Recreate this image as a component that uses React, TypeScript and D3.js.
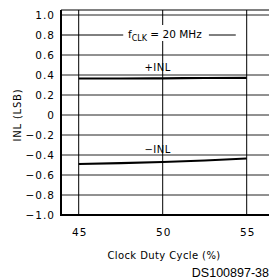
import * as d3 from "d3";
import React from "react";

// duty cycle (%) vs INL (LSB)
const dutyCycle = [45, 47.5, 50, 52.5, 55];
const inlPlus = [0.365, 0.365, 0.367, 0.37, 0.372];
const inlMinus = [-0.49, -0.482, -0.47, -0.455, -0.435];

const xTicks = [45, 50, 55];
const yTicks = [-1.0, -0.8, -0.6, -0.4, -0.2, 0, 0.2, 0.4, 0.6, 0.8, 1.0];

const W = 269;
const H = 279;
const font = "DejaVu Sans, sans-serif";

function App() {
  const x = d3.scaleLinear().domain([45, 55]).range([78.7, 246.7]);
  const y = d3.scaleLinear().domain([-1, 1]).range([215, 15]);

  const left = 61;
  const top = 10;
  const bottom = y(-1);

  const line = d3
    .line<number>()
    .x((_, i) => x(dutyCycle[i]))
    .y((d) => y(d))
    .curve(d3.curveMonotoneX);

  const fmt = (v: number) => {
    if (v === 0) return "0";
    const s = Math.abs(v).toFixed(1);
    return v < 0 ? "\u2212" + s : s;
  };

  return (
    <svg width={W} height={H} style={{ position: "absolute", left: 0, top: 0, background: "#fff" }}>
      {/* horizontal grid */}
      {yTicks.map((t) =>
        t === 0.8 ? (
          <g key={t}>
            <line x1={left} x2={x(47.65)} y1={y(t)} y2={y(t)} stroke="#000" strokeWidth={1} />
            <line x1={x(52.75)} x2={x(54.35)} y1={y(t)} y2={y(t)} stroke="#000" strokeWidth={1} />
          </g>
        ) : (
          <line key={t} x1={left} x2={W} y1={y(t)} y2={y(t)} stroke="#222" strokeWidth={1} />
        )
      )}
      <line x1={left} x2={W} y1={top} y2={top} stroke="#000" strokeWidth={1} />
      {/* vertical grid */}
      {xTicks.map((t) => (
        <line key={t} x1={x(t)} x2={x(t)} y1={top} y2={bottom} stroke="#000" strokeWidth={1} />
      ))}
      {/* axes */}
      <line x1={left} x2={left} y1={top} y2={bottom + 1} stroke="#000" strokeWidth={2} />
      <line x1={left} x2={W} y1={bottom} y2={bottom} stroke="#000" strokeWidth={2} />

      {/* y tick labels */}
      {yTicks.map((t) => (
        <text key={t} x={55} y={y(t) + 4} textAnchor="end" fontFamily={font} fontSize={10.5} letterSpacing={1}>
          {fmt(t)}
        </text>
      ))}
      {/* x tick labels */}
      {xTicks.map((t) => (
        <text key={t} x={x(t) + 1} y={236} textAnchor="middle" fontFamily={font} fontSize={10.5} letterSpacing={1}>
          {t}
        </text>
      ))}
      <text x={164} y={259} textAnchor="middle" fontFamily={font} fontSize={10} letterSpacing={0.4}>
        Clock Duty Cycle (%)
      </text>
      <text
        transform={`translate(21,${y(0)}) rotate(-90)`}
        textAnchor="middle"
        fontFamily={font}
        fontSize={10}
        letterSpacing={0.8}
      >
        INL (LSB)
      </text>

      {/* f_CLK annotation */}
      <rect x={x(47.65) + 1} y={y(0.8) - 10} width={x(52.75) - x(47.65) - 2} height={16} fill="#fff" />
      <text x={128} y={y(0.8) + 3} fontFamily={font} fontSize={10.5}>
        f
        <tspan fontSize={8} dy={3}>CLK</tspan>
        <tspan dy={-3}> = 20 MHz</tspan>
      </text>

      {/* series */}
      <path d={line(inlPlus) || ""} fill="none" stroke="#000" strokeWidth={2.2} />
      <path d={line(inlMinus) || ""} fill="none" stroke="#000" strokeWidth={2.2} />
      <text x={x(49.7)} y={y(0.485) + 4} textAnchor="middle" fontFamily={font} fontSize={10} letterSpacing={0.5}>
        +INL
      </text>
      <text x={x(49.7)} y={y(-0.34) + 4} textAnchor="middle" fontFamily={font} fontSize={10} letterSpacing={0.5}>
        {"\u2212INL"}
      </text>

      <text x={W} y={277} textAnchor="end" fontFamily="Liberation Sans, Arial, sans-serif" fontSize={12.5}>
        DS100897-38
      </text>
    </svg>
  );
}

export default App;
